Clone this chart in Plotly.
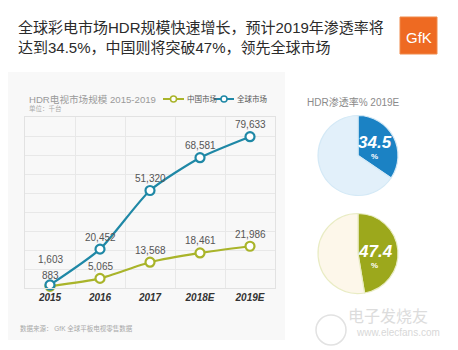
import plotly.graph_objects as go

# ---------------- data ----------------
years = ["2015", "2016", "2017", "2018E", "2019E"]
china_market = [883, 5065, 13568, 18461, 21986]
global_market = [1603, 20452, 51320, 68581, 79633]
pie_global = [34.5, 65.5]
pie_china = [47.4, 52.6]
series_names = ["中国市场", "全球市场"]

# ---------------- style ----------------
W, H = 458, 350
OLIVE = "#a9b42a"
TEAL = "#1f88a6"
BLUE = "#1b82c4"
LIGHT_BLUE = "#e2f0fa"
PIE_OLIVE = "#9ca81c"
CREAM = "#fdf7ea"
CJK = "Liberation Sans, Noto Sans CJK SC, sans-serif"


def px(x):
    return x / W


def py(y):
    return 1 - y / H


fig = go.Figure()

# line series
for name, vals, col in [(series_names[0], china_market, OLIVE), (series_names[1], global_market, TEAL)]:
    fig.add_trace(go.Scatter(
        x=years, y=vals, name=name, mode="lines+markers",
        line=dict(color=col, width=2.2, shape="spline", smoothing=0.6),
        marker=dict(symbol="circle", size=9, color="white", line=dict(color=col, width=2.2)),
        showlegend=False, cliponaxis=False, hoverinfo="skip",
    ))

# pies
fig.add_trace(go.Pie(
    values=pie_global, sort=False, direction="clockwise", rotation=0,
    marker=dict(colors=[BLUE, LIGHT_BLUE], line=dict(color="#d4e9f6", width=1.2)),
    textinfo="none", hoverinfo="skip", showlegend=False,
    domain=dict(x=[px(318), px(398)], y=[py(196), py(115)]),
))
fig.add_trace(go.Pie(
    values=pie_china, sort=False, direction="clockwise", rotation=0,
    marker=dict(colors=[PIE_OLIVE, CREAM], line=dict(color="#e9ecc4", width=1.2)),
    textinfo="none", hoverinfo="skip", showlegend=False,
    domain=dict(x=[px(318), px(398)], y=[py(294), py(213)]),
))

shapes = []
annotations = []

# left panel background
shapes.append(dict(type="rect", xref="paper", yref="paper", x0=px(8), x1=px(285), y0=py(340), y1=py(72),
                   fillcolor="#f8f8f8", line=dict(width=0), layer="below"))

# GfK logo
shapes.append(dict(type="rect", xref="paper", yref="paper", x0=px(400), x1=px(437), y0=py(54), y1=py(17),
                   fillcolor="#ee6a22", line=dict(color="#f08a4a", width=1)))
annotations.append(dict(text="GfK", xref="paper", yref="paper", x=px(418.5), y=py(37), showarrow=False,
                        font=dict(family="Liberation Sans", size=15, color="white"),
                        xanchor="center", yanchor="middle"))

# main title
annotations.append(dict(text="全球彩电市场HDR规模快速增长，预计2019年渗透率将<br>达到34.5%，中国则将突破47%，领先全球市场",
                        xref="paper", yref="paper", x=px(16), y=py(38), showarrow=False, align="left",
                        xanchor="left", yanchor="middle",
                        font=dict(family=CJK, size=15, color="#2b2b2b")))

# chart title and unit
annotations.append(dict(text="HDR电视市场规模 2015-2019", xref="paper", yref="paper", x=px(27), y=py(99),
                        showarrow=False, xanchor="left", yanchor="middle",
                        font=dict(family=CJK, size=9.6, color="#9a9a9a")))
annotations.append(dict(text="单位：千台", xref="paper", yref="paper", x=px(27), y=py(109),
                        showarrow=False, xanchor="left", yanchor="middle",
                        font=dict(family=CJK, size=6.5, color="#aaaaaa")))

# custom legend
for (x0, x1, xt, col, name) in [(163, 184, 185, OLIVE, series_names[0]), (214, 234, 235, TEAL, series_names[1])]:
    shapes.append(dict(type="line", xref="paper", yref="paper", x0=px(x0), x1=px(x1), y0=py(99), y1=py(99),
                       line=dict(color=col, width=2)))
    cx = (x0 + x1) / 2
    shapes.append(dict(type="circle", xref="paper", yref="paper", x0=px(cx - 3), x1=px(cx + 3),
                       y0=py(102), y1=py(96), fillcolor="white", line=dict(color=col, width=1.5)))
    annotations.append(dict(text=name, xref="paper", yref="paper", x=px(xt), y=py(99.5), showarrow=False,
                            xanchor="left", yanchor="middle",
                            font=dict(family=CJK, size=7.5, color="#555555")))

# data labels (x given as category index)
label_shift_china = [11, 12, 12, 12, 12]
label_shift_global = [25, 12, 12, 12, 12]
for vals, shifts in [(china_market, label_shift_china), (global_market, label_shift_global)]:
    for i, (v, s) in enumerate(zip(vals, shifts)):
        annotations.append(dict(text=f"{v:,}", x=i, y=v, xref="x", yref="y", showarrow=False,
                                yshift=s, xanchor="center", yanchor="middle",
                                font=dict(family="Liberation Sans", size=10, color="#555555")))

# source
annotations.append(dict(text="数据来源： GfK 全球平板电视零售数据", xref="paper", yref="paper", x=px(18), y=py(328),
                        showarrow=False, xanchor="left", yanchor="middle",
                        font=dict(family=CJK, size=6.5, color="#a8a8a8")))

# pie title
annotations.append(dict(text="HDR渗透率% 2019E", xref="paper", yref="paper", x=px(353), y=py(101.5),
                        showarrow=False, xanchor="center", yanchor="middle",
                        font=dict(family=CJK, size=10, color="#8a8a8a")))

# pie labels
for val, cy in [(pie_global[0], 142), (pie_china[0], 251)]:
    annotations.append(dict(text=f"<b><i>{val}</i></b>", xref="paper", yref="paper", x=px(375), y=py(cy),
                            showarrow=False, xanchor="center", yanchor="middle",
                            font=dict(family="Liberation Sans", size=17, color="white")))
    annotations.append(dict(text="<b>%</b>", xref="paper", yref="paper", x=px(374), y=py(cy + 14),
                            showarrow=False, xanchor="center", yanchor="middle",
                            font=dict(family="Liberation Sans", size=8, color="white")))

# watermark
shapes.append(dict(type="circle", xref="paper", yref="paper", x0=px(316), x1=px(346), y0=py(345), y1=py(315),
                   line=dict(color="#e2e2e2", width=1.5)))
annotations.append(dict(text="电子发烧友", xref="paper", yref="paper", x=px(388), y=py(315),
                        showarrow=False, xanchor="center", yanchor="middle",
                        font=dict(family="Noto Sans CJK SC", size=16, color="#dcdcdc")))
annotations.append(dict(text="www.elecfans.com", xref="paper", yref="paper", x=px(398), y=py(332),
                        showarrow=False, xanchor="center", yanchor="middle",
                        font=dict(family="Liberation Sans", size=10, color="#d8d8d8")))

fig.update_layout(
    width=W, height=H,
    margin=dict(l=0, r=0, t=0, b=0),
    paper_bgcolor="white",
    plot_bgcolor="white",
    shapes=shapes,
    annotations=annotations,
    xaxis=dict(
        domain=[px(25), px(275)], type="category", range=[-0.5, 4.5],
        tickson="boundaries", showgrid=True, gridcolor="#e8e8e8", gridwidth=1,
        showline=True, linecolor="#e2e2e2", mirror=True, ticks="", zeroline=False,
        tickfont=dict(family="Liberation Sans", size=10, color="#333333", weight="bold", style="italic"),
        fixedrange=True,
    ),
    yaxis=dict(
        domain=[py(288), py(117)], range=[0, 90000], dtick=10000,
        showgrid=True, gridcolor="#e8e8e8", gridwidth=1, showticklabels=False,
        showline=True, linecolor="#e2e2e2", mirror=True, zeroline=False, ticks="",
        fixedrange=True,
    ),
)

fig.write_html("out.html")
